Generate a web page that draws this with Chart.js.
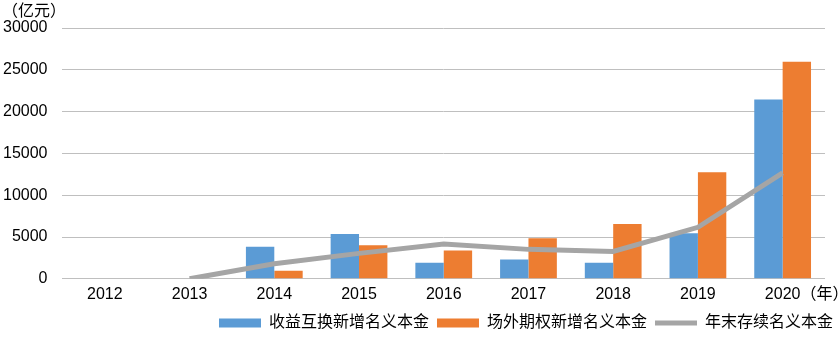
<!DOCTYPE html>
<html>
<head>
<meta charset="utf-8">
<script src="https://cdn.jsdelivr.net/npm/chart.js@4.4.1/dist/chart.umd.min.js"></script>
<style>
  html, body { margin: 0; padding: 0; background: #fff; }
  #wrap { width: 838px; height: 337px; position: relative; }
</style>
</head>
<body>
<div id="wrap"><canvas id="chart"></canvas></div>
<script>
// data (亿元)
const years     = ['2012', '2013', '2014', '2015', '2016', '2017', '2018', '2019', '2020'];
const swapNew   = [null, null, 3840, 5360, 1920, 2320, 1920, 5440, 21440];
const optionNew = [null, null, 960, 4000, 3400, 4840, 6560, 12760, 25960];
const yearEnd   = [null, 0, 1800, 3040, 4160, 3520, 3280, 6160, 12680];
const yTicks    = [0, 5000, 10000, 15000, 20000, 25000, 30000];

const BLUE   = '#5B9BD5';
const ORANGE = '#ED7D31';
const GRAY   = '#A5A5A5';
const FONT   = '"Liberation Sans", Arial, "Noto Sans CJK SC", sans-serif';
const TICK_PAD = 6;

// unit label top-left and the (年) suffix after the last category
const extras = {
  id: 'extras',
  afterLayout(chart) {
    // nudge the legend a little right/up like the original
    const lg = chart.legend;
    lg.left += 16; lg.right += 16;
    lg.top -= 3; lg.bottom -= 3;
  },
  afterDraw(chart) {
    const { ctx, scales: { x } } = chart;
    ctx.save();
    ctx.fillStyle = '#000';
    ctx.font = '16px ' + FONT;
    ctx.textBaseline = 'middle';
    ctx.textAlign = 'left';
    ctx.fillText('（亿元）', 2, 12);
    const last = years.length - 1;
    const px = x.getPixelForTick(last);
    const w = ctx.measureText(years[last]).width;
    ctx.fillText('（年）', px + w / 2, x.top + TICK_PAD + 9.6);
    ctx.restore();
  }
};

new Chart(document.getElementById('chart'), {
  data: {
    labels: years,
    datasets: [
      { type: 'bar',  label: '收益互换新增名义本金', data: swapNew,   backgroundColor: BLUE,   borderWidth: 0, order: 1, pointStyle: 'rect' },
      { type: 'bar',  label: '场外期权新增名义本金', data: optionNew, backgroundColor: ORANGE, borderWidth: 0, order: 1, pointStyle: 'rect' },
      { type: 'line', label: '年末存续名义本金',     data: yearEnd,   borderColor: GRAY, backgroundColor: GRAY, borderWidth: 5,
        pointRadius: 0, pointStyle: 'line', tension: 0, order: 0 },
    ],
  },
  options: {
    responsive: true, maintainAspectRatio: false, animation: false,
    categoryPercentage: 0.67, barPercentage: 1,
    layout: { padding: { left: -12, right: 13, top: 28, bottom: -7 } },
    plugins: {
      tooltip: { enabled: false },
      legend: {
        position: 'bottom', align: 'end',
        labels: {
          usePointStyle: true, pointStyleWidth: 42, boxHeight: 9,
          color: '#000', font: { family: FONT, size: 16 }, padding: 8,
          sort: (a, b) => a.datasetIndex - b.datasetIndex,
        },
      },
    },
    scales: {
      x: {
        grid: { display: false, drawTicks: false },
        border: { display: false },
        ticks: { color: '#000', font: { family: FONT, size: 16 }, padding: TICK_PAD, maxRotation: 0 },
      },
      y: {
        min: 0, max: 30000,
        afterBuildTicks: axis => { axis.ticks = yTicks.map(v => ({ value: v })); },
        grid: { color: '#BFBFBF', drawTicks: false },
        border: { display: false },
        ticks: { color: '#000', font: { family: FONT, size: 16 }, padding: 15, callback: v => String(v) },
      },
    },
  },
  plugins: [extras],
});
</script>
</body>
</html>
